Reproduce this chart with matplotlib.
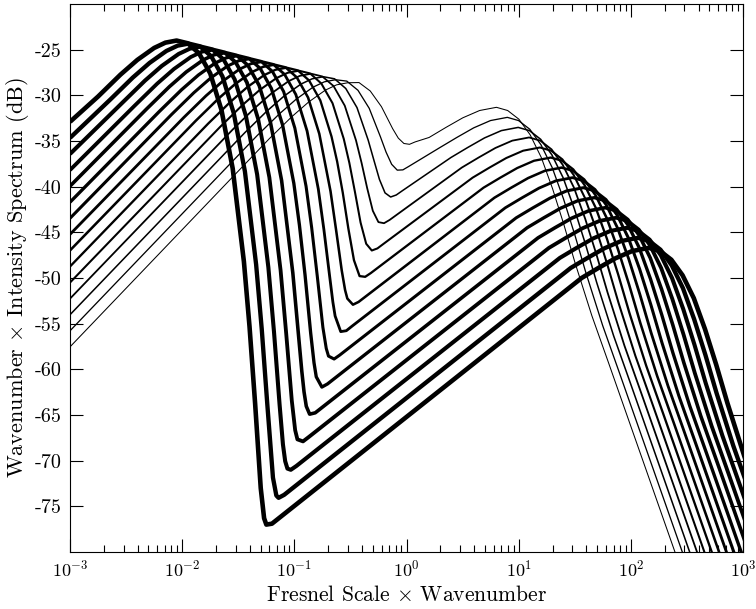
import numpy as np
import matplotlib
matplotlib.use("Agg")
import matplotlib.pyplot as plt
from matplotlib.ticker import NullFormatter

plt.rcParams['font.family'] = 'serif'
plt.rcParams['font.serif'] = ['cmr10']
plt.rcParams['mathtext.fontset'] = 'cm'
plt.rcParams['axes.formatter.use_mathtext'] = True
plt.rcParams['axes.unicode_minus'] = False

# curves, thickest (0) to thinnest (14)
# log10(Fresnel scale x wavenumber) and dB values
log_k = [
    [-3, -2.75, -2.55, -2.40, -2.25, -2.15, -2.05, -1.95, -1.85, -1.75, -1.65, -1.55, -1.45, -1.40, -1.35, -1.30, -1.27, -1.25, -1.20,
     1.56, 1.71, 1.86, 2.01, 2.16, 2.26, 2.36, 2.46, 2.56, 2.66, 2.76, 2.86, 3.01, 3.16, 3.96],
    [-3, -2.641, -2.441, -2.291, -2.141, -2.041, -1.941, -1.841, -1.741, -1.641, -1.541, -1.441, -1.341, -1.291, -1.241, -1.191, -1.161, -1.141, -1.091,
     1.463, 1.613, 1.763, 1.913, 2.063, 2.163, 2.263, 2.363, 2.463, 2.563, 2.663, 2.763, 2.913, 3.063, 3.863],
    [-3, -2.532, -2.332, -2.182, -2.032, -1.932, -1.832, -1.732, -1.632, -1.532, -1.432, -1.332, -1.232, -1.182, -1.132, -1.102, -1.082, -1.062, -1.032, -0.982,
     1.366, 1.516, 1.666, 1.816, 1.966, 2.066, 2.166, 2.266, 2.366, 2.466, 2.566, 2.666, 2.816, 2.966, 3.766],
    [-3, -2.423, -2.223, -2.073, -1.923, -1.823, -1.723, -1.623, -1.523, -1.423, -1.323, -1.223, -1.123, -1.073, -1.023, -0.993, -0.973, -0.923, -0.873,
     1.269, 1.419, 1.569, 1.719, 1.869, 1.969, 2.069, 2.169, 2.269, 2.369, 2.469, 2.569, 2.719, 2.869, 3.669],
    [-3, -2.314, -2.114, -1.964, -1.814, -1.714, -1.614, -1.514, -1.414, -1.314, -1.214, -1.114, -1.014, -0.964, -0.934, -0.914, -0.894, -0.864, -0.814,
     1.172, 1.322, 1.472, 1.622, 1.772, 1.872, 1.972, 2.072, 2.172, 2.272, 2.372, 2.472, 2.622, 2.772, 3.572],
    [-3, -2.205, -2.005, -1.855, -1.705, -1.605, -1.505, -1.405, -1.305, -1.205, -1.105, -1.005, -0.955, -0.905, -0.855, -0.825, -0.805, -0.755, -0.705,
     1.074, 1.224, 1.374, 1.524, 1.674, 1.774, 1.874, 1.974, 2.074, 2.174, 2.274, 2.374, 2.524, 2.674, 3.474],
    [-3, -2.096, -1.896, -1.746, -1.596, -1.496, -1.396, -1.296, -1.196, -1.096, -0.996, -0.896, -0.846, -0.796, -0.746, -0.716, -0.696, -0.646, -0.596,
     0.977, 1.127, 1.277, 1.427, 1.577, 1.677, 1.777, 1.877, 1.977, 2.077, 2.177, 2.277, 2.427, 2.577, 3.377],
    [-3, -1.987, -1.787, -1.637, -1.487, -1.387, -1.287, -1.187, -1.087, -0.987, -0.887, -0.787, -0.737, -0.687, -0.657, -0.637, -0.587, -0.537, -0.487,
     0.88, 1.03, 1.18, 1.33, 1.48, 1.58, 1.68, 1.78, 1.88, 1.98, 2.08, 2.18, 2.33, 2.48, 3.28],
    [-3, -1.878, -1.678, -1.528, -1.378, -1.278, -1.178, -1.078, -0.978, -0.878, -0.778, -0.678, -0.628, -0.578, -0.548, -0.528, -0.478, -0.428,
     0.783, 0.933, 1.083, 1.233, 1.383, 1.483, 1.583, 1.683, 1.783, 1.883, 1.983, 2.083, 2.233, 2.383, 3.183],
    [-3, -1.769, -1.569, -1.419, -1.269, -1.169, -1.069, -0.969, -0.869, -0.769, -0.669, -0.619, -0.569, -0.519, -0.469, -0.419, -0.369, -0.319,
     0.686, 0.836, 0.986, 1.136, 1.286, 1.386, 1.486, 1.586, 1.686, 1.786, 1.886, 1.986, 2.136, 2.286, 3.086],
    [-3, -1.66, -1.46, -1.31, -1.16, -1.06, -0.96, -0.86, -0.76, -0.66, -0.56, -0.51, -0.46, -0.41, -0.36, -0.31, -0.26, -0.21,
     0.589, 0.739, 0.889, 1.039, 1.189, 1.289, 1.389, 1.489, 1.589, 1.689, 1.789, 1.889, 2.039, 2.189, 2.989],
    [-3, -1.551, -1.351, -1.201, -1.051, -0.951, -0.851, -0.751, -0.651, -0.551, -0.451, -0.401, -0.351, -0.301, -0.251, -0.201, -0.151,
     0.492, 0.642, 0.792, 0.942, 1.092, 1.192, 1.292, 1.392, 1.492, 1.592, 1.692, 1.792, 1.942, 2.092, 2.892],
    [-3, -1.442, -1.242, -1.092, -0.942, -0.842, -0.742, -0.642, -0.542, -0.442, -0.342, -0.292, -0.242, -0.192, -0.142, -0.092, -0.042,
     0.395, 0.545, 0.695, 0.845, 0.995, 1.095, 1.195, 1.295, 1.395, 1.495, 1.595, 1.695, 1.845, 1.995, 2.795],
    [-3, -1.333, -1.133, -0.983, -0.833, -0.733, -0.633, -0.533, -0.433, -0.333, -0.233, -0.183, -0.133, -0.083, -0.033, 0.017,
     0.298, 0.448, 0.598, 0.748, 0.898, 0.998, 1.098, 1.198, 1.298, 1.398, 1.498, 1.598, 1.748, 1.898, 2.698],
    [-3, -1.224, -1.024, -0.874, -0.724, -0.624, -0.524, -0.424, -0.324, -0.224, -0.124, -0.074, -0.024, 0.026, 0.076,
     0.201, 0.351, 0.501, 0.651, 0.801, 0.901, 1.001, 1.101, 1.201, 1.301, 1.401, 1.501, 1.651, 1.801, 2.601],
]
spec_db = [
    [-32.9, -30.13, -27.73, -26.12, -24.81, -24.23, -24.0, -24.3, -25.4, -27.6, -31.6, -38.0, -48.2, -55.3, -63.75, -73.0, -76.3, -77.0, -76.9,
     -50.0, -48.9, -47.85, -47.05, -46.7, -47.05, -48.0, -49.7, -52.2, -55.6, -59.5, -63.7, -69.5, -74.7, -102.7],
    [-34.66, -30.46, -28.06, -26.45, -25.14, -24.56, -24.33, -24.63, -25.73, -27.93, -31.93, -38.33, -48.53, -55.59, -63.9, -71.86, -73.81, -74.07, -73.74,
     -48.9, -47.8, -46.75, -45.95, -45.6, -45.95, -46.9, -48.6, -51.1, -54.5, -58.4, -62.6, -68.4, -73.6, -101.6],
    [-36.42, -30.79, -28.39, -26.78, -25.47, -24.89, -24.66, -24.96, -26.06, -28.26, -32.26, -38.66, -48.83, -55.86, -63.85, -68.22, -70.06, -70.87, -71.0, -70.58,
     -47.8, -46.7, -45.65, -44.85, -44.5, -44.85, -45.8, -47.5, -50.0, -53.4, -57.3, -61.5, -67.3, -72.5, -100.5],
    [-38.18, -31.12, -28.72, -27.11, -25.8, -25.22, -24.99, -25.29, -26.39, -28.59, -32.59, -38.99, -49.15, -56.08, -63.44, -66.67, -67.67, -67.89, -67.42,
     -46.7, -45.6, -44.55, -43.75, -43.4, -43.75, -44.7, -46.4, -48.9, -52.3, -56.2, -60.4, -66.2, -71.4, -99.4],
    [-39.94, -31.45, -29.05, -27.44, -26.13, -25.55, -25.32, -25.62, -26.72, -28.92, -32.92, -39.32, -49.44, -56.17, -60.19, -62.47, -64.04, -64.91, -64.76,
     -45.6, -44.5, -43.45, -42.65, -42.3, -42.65, -43.6, -45.3, -47.8, -51.2, -55.1, -59.3, -65.1, -70.3, -98.3],
    [-41.7, -31.78, -29.38, -27.77, -26.46, -25.88, -25.65, -25.95, -27.05, -29.25, -33.25, -39.63, -44.21, -49.67, -56.01, -59.29, -60.82, -61.94, -61.6,
     -44.5, -43.4, -42.35, -41.55, -41.2, -41.55, -42.5, -44.2, -46.7, -50.1, -54.0, -58.2, -64.0, -69.2, -97.2],
    [-43.46, -32.11, -29.71, -28.1, -26.79, -26.21, -25.98, -26.28, -27.38, -29.58, -33.58, -39.95, -44.48, -49.79, -55.4, -57.71, -58.55, -58.87, -58.44,
     -43.41, -42.31, -41.26, -40.46, -40.11, -40.46, -41.41, -43.11, -45.61, -49.01, -52.91, -57.11, -62.91, -68.11, -96.11],
    [-45.22, -32.44, -30.04, -28.43, -27.12, -26.54, -26.31, -26.61, -27.71, -29.91, -33.9, -40.24, -44.69, -49.68, -52.63, -54.16, -55.87, -55.77, -55.28,
     -42.31, -41.21, -40.16, -39.36, -39.01, -39.36, -40.31, -42.01, -44.51, -47.91, -51.81, -56.01, -61.81, -67.01, -95.01],
    [-46.98, -32.77, -30.37, -28.76, -27.45, -26.87, -26.64, -26.94, -28.04, -30.24, -34.21, -40.49, -44.76, -49.17, -51.32, -52.25, -52.92, -52.62,
     -41.21, -40.11, -39.06, -38.26, -37.91, -38.26, -39.21, -40.91, -43.41, -46.81, -50.71, -54.91, -60.71, -65.91, -93.91],
    [-48.74, -33.1, -30.7, -29.09, -27.78, -27.2, -26.97, -27.27, -28.37, -30.55, -34.51, -37.24, -40.64, -44.58, -48.05, -49.79, -49.87, -49.46,
     -40.11, -39.01, -37.96, -37.16, -36.81, -37.16, -38.11, -39.81, -42.31, -45.71, -49.61, -53.81, -59.61, -64.81, -92.81],
    [-50.5, -33.43, -31.03, -29.42, -28.11, -27.53, -27.3, -27.6, -28.7, -30.86, -34.76, -37.4, -40.59, -43.93, -46.25, -46.99, -46.76, -46.3,
     -39.01, -37.91, -36.86, -36.06, -35.71, -36.06, -37.01, -38.71, -41.21, -44.61, -48.51, -52.71, -58.51, -63.71, -91.71],
    [-52.26, -33.76, -31.36, -29.75, -28.44, -27.86, -27.63, -27.93, -28.98, -31.13, -34.92, -37.4, -40.17, -42.64, -43.88, -44.0, -43.64,
     -37.91, -36.81, -35.76, -34.96, -34.61, -34.96, -35.91, -37.61, -40.11, -43.51, -47.41, -51.61, -57.41, -62.61, -90.61],
    [-54.02, -34.09, -31.69, -30.08, -28.77, -28.19, -27.96, -28.19, -29.25, -31.34, -34.91, -37.07, -39.2, -40.68, -41.13, -40.91, -40.48,
     -36.81, -35.71, -34.66, -33.86, -33.51, -33.86, -34.81, -36.51, -39.01, -42.41, -46.31, -50.51, -56.31, -61.51, -89.51],
    [-55.78, -34.42, -32.02, -30.41, -29.1, -28.52, -28.29, -28.44, -29.45, -31.42, -34.54, -36.21, -37.55, -38.19, -38.16, -37.8,
     -35.71, -34.61, -33.56, -32.76, -32.41, -32.76, -33.71, -35.41, -37.91, -41.31, -45.21, -49.41, -55.21, -60.41, -88.41],
    [-57.54, -34.75, -32.35, -30.74, -29.43, -28.85, -28.62, -28.6, -29.52, -31.24, -33.65, -34.68, -35.27, -35.36, -35.1,
     -34.61, -33.51, -32.46, -31.66, -31.31, -31.66, -32.61, -34.31, -36.81, -40.21, -44.11, -48.31, -54.11, -59.31, -87.31],
]

x_ticks = [1e-3, 1e-2, 1e-1, 1e0, 1e1, 1e2, 1e3]
y_ticks = [-75, -70, -65, -60, -55, -50, -45, -40, -35, -30, -25]

fig = plt.figure(figsize=(7.56, 6.09), dpi=100)
ax = fig.add_axes([0.0926, 0.0936, 0.8904, 0.8998])

widths = np.linspace(3.3, 0.75, len(log_k))
for lk, db, lw in zip(log_k, spec_db, widths):
    ax.plot(10.0 ** np.array(lk), db, color='black', linewidth=lw,
            solid_joinstyle='round', solid_capstyle='butt')

ax.set_xscale('log')
ax.set_xlim(1e-3, 1e3)
ax.set_ylim(-80, -20)
ax.set_xticks(x_ticks)
ax.set_yticks(y_ticks)
ax.set_yticklabels([str(v) for v in y_ticks])
ax.xaxis.set_minor_formatter(NullFormatter())
ax.tick_params(which='both', direction='in', top=True, right=True, width=0.8)
ax.tick_params(which='major', length=9.5)
ax.tick_params(which='minor', length=5)
ax.tick_params(axis='y', labelsize=14.5, pad=6)
ax.tick_params(axis='x', labelsize=13, pad=5)
for s in ax.spines.values():
    s.set_linewidth(0.8)

ax.set_xlabel(r'Fresnel Scale $\times$ Wavenumber', fontsize=15.5, labelpad=4)
ax.set_ylabel(r'Wavenumber $\times$ Intensity Spectrum (dB)', fontsize=16, labelpad=3)

fig.savefig('out.png', dpi=100)
